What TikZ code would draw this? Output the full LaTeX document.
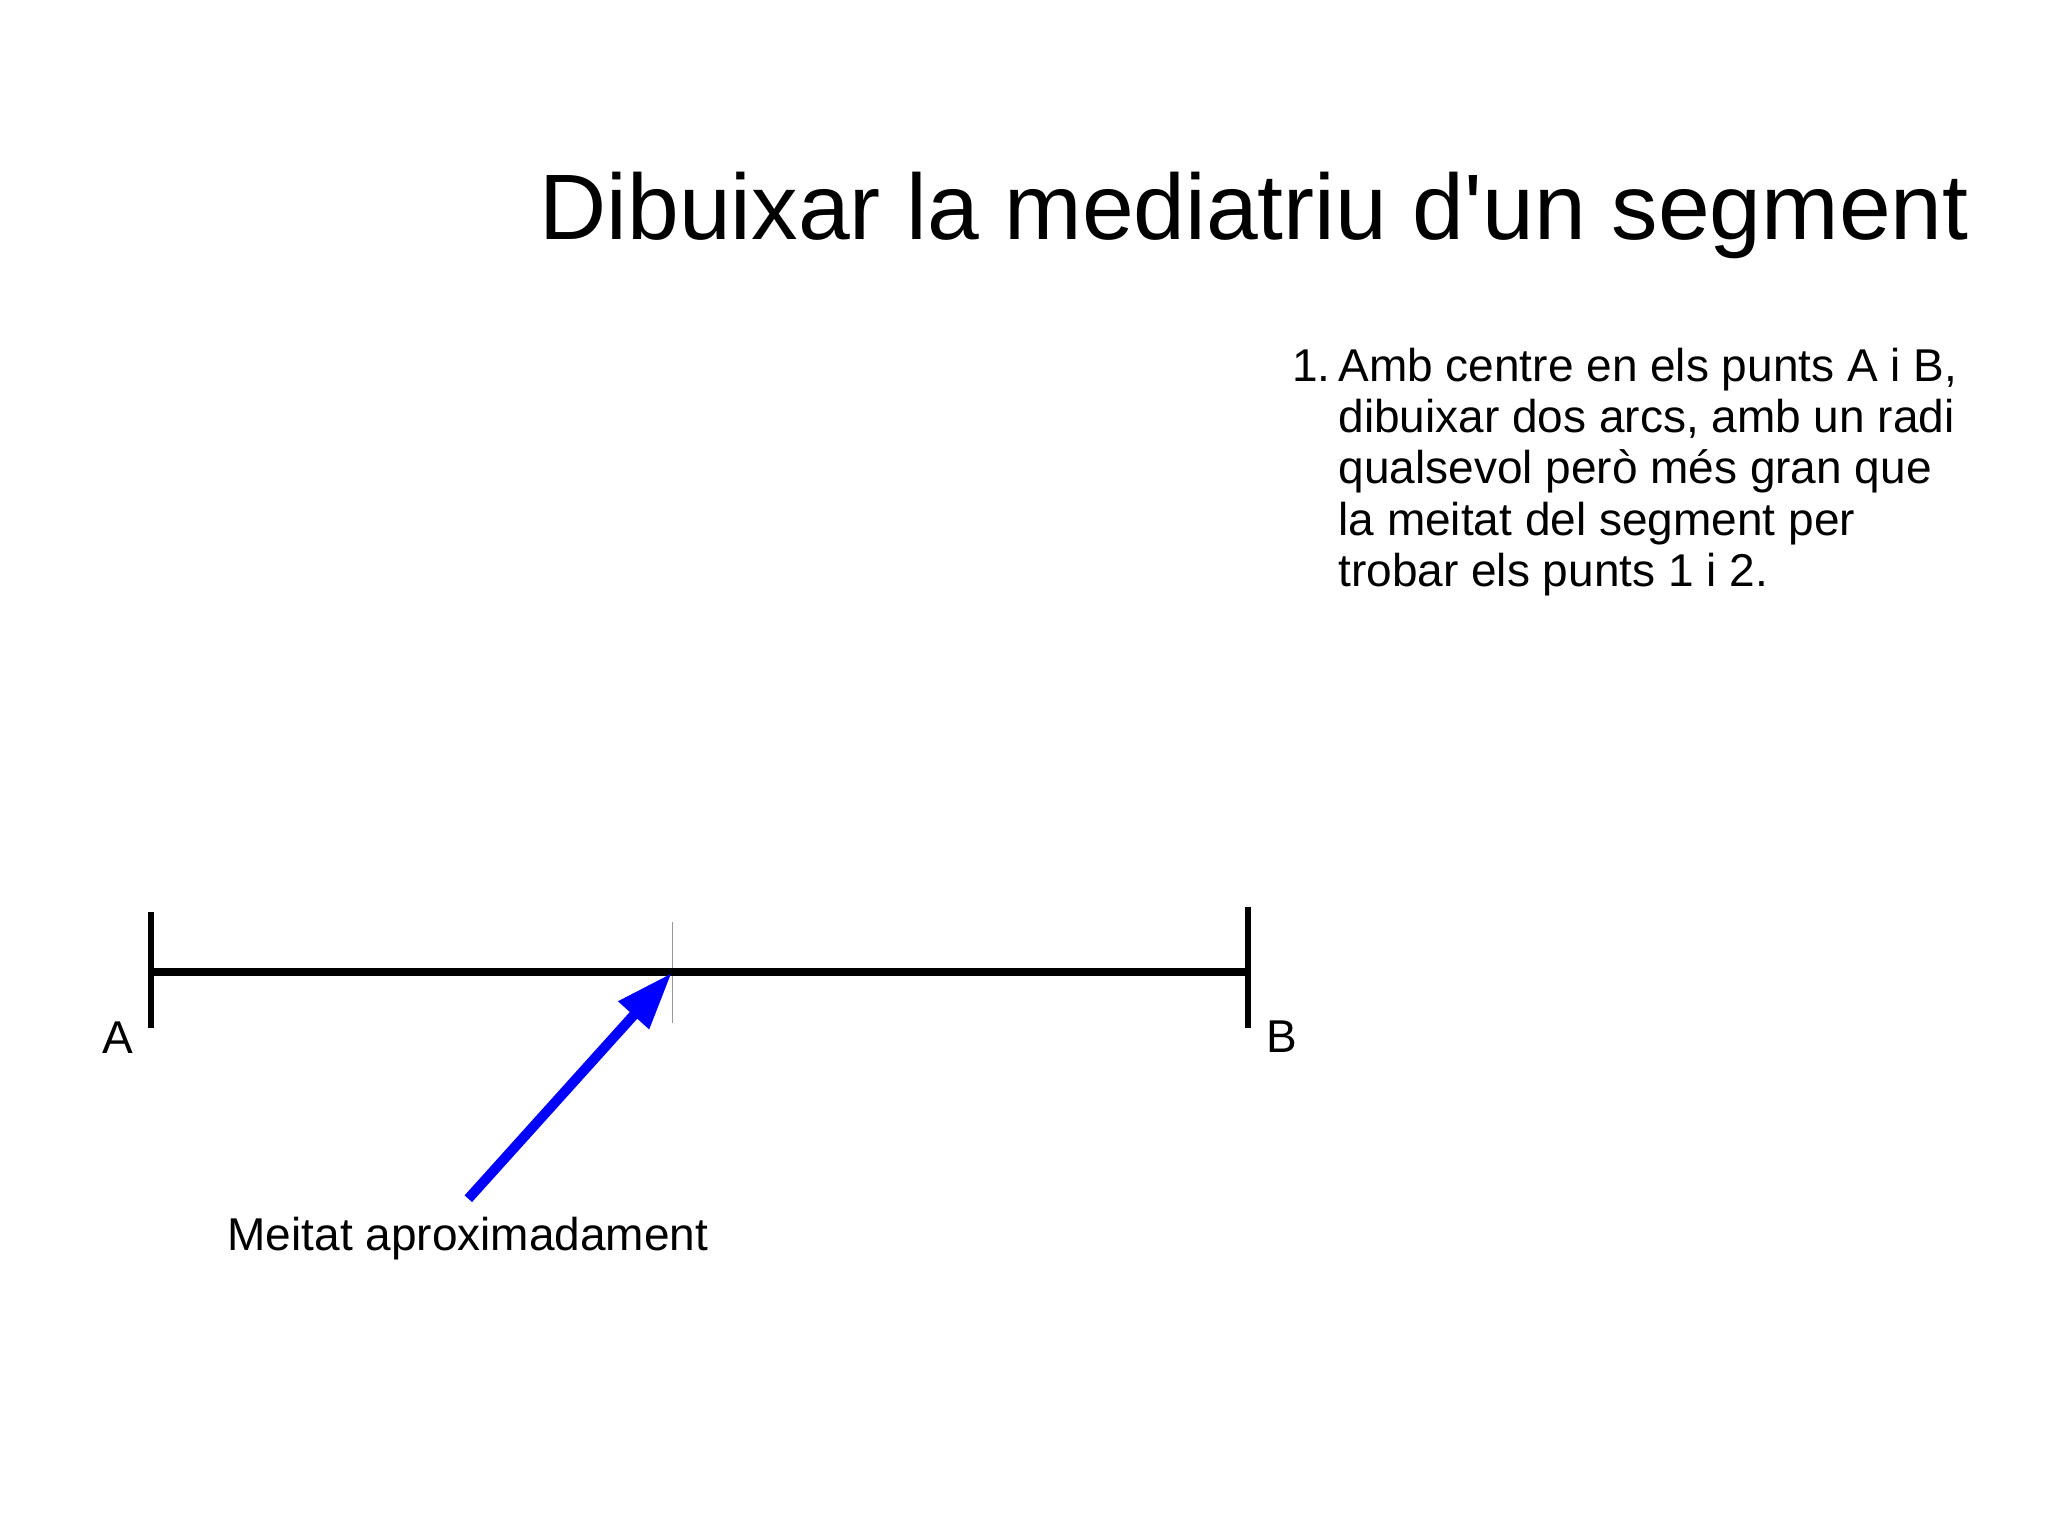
\documentclass[tikz,border=0pt]{standalone}
\usepackage{fontspec}
\setmainfont{Liberation Sans}
\newfontfamily\lsans{Liberation Sans}
\usetikzlibrary{arrows.meta}
\tikzset{
  txt/.style={inner sep=0pt, outer sep=0pt, anchor=base west, font=\lsans\fontsize{23}{25.7}\selectfont},
  ttl/.style={inner sep=0pt, outer sep=0pt, anchor=base west, font=\lsans\fontsize{46.5}{52}\selectfont},
  seg/.style={line width=4pt, black},
  tick/.style={line width=3pt, black},
  guide/.style={line width=0.5pt, black!40},
  arr/.style={line width=5pt, blue, -{Triangle[length=28.5pt, width=19.5pt]}}
}
\begin{document}
\begin{tikzpicture}[x=0.5pt,y=-0.5pt]
\fill[white] (0,0) rectangle (2048,1535);
\useasboundingbox (0,0) rectangle (2048,1535);
% title
\node[ttl] (title) at (539.7,240) {Dibuixar la mediatriu d'un segment};
% instruction
\node[txt] (num) at (1292,381) {1.};
\node[txt] (step1) at (1338.5,381) {\parbox[t]{600pt}{\raggedright\baselineskip=25.7pt
Amb centre en els punts A i B,\\
dibuixar dos arcs, amb un radi\\
qualsevol però més gran que\\
la meitat del segment per\\
trobar els punts 1 i 2.}};
% segment
\coordinate (A) at (151.4,971.7);
\coordinate (B) at (1248.3,971.7);
\coordinate (Atop) at (151.4,911.7);
\coordinate (Abot) at (151.4,1028.3);
\coordinate (Btop) at (1248.3,906.7);
\coordinate (Bbot) at (1248.3,1028.3);
\coordinate (Mtop) at (672.5,921.7);
\coordinate (Mbot) at (672.5,1023.3);
\coordinate (M) at (671.7,973);
\coordinate (tail) at (468.3,1198.7);
\draw[guide] (Mtop) -- (Mbot);
\draw[seg] (A) -- (B);
\draw[tick] (Atop) -- (Abot);
\draw[tick] (Btop) -- (Bbot);
\node[txt] (labA) at (102,1053) {A};
\node[txt] (labB) at (1266.6,1052) {B};
\draw[arr] (tail) -- (M);
\node[txt] (meitat) at (227.6,1250) {Meitat aproximadament};
\end{tikzpicture}
\end{document}
